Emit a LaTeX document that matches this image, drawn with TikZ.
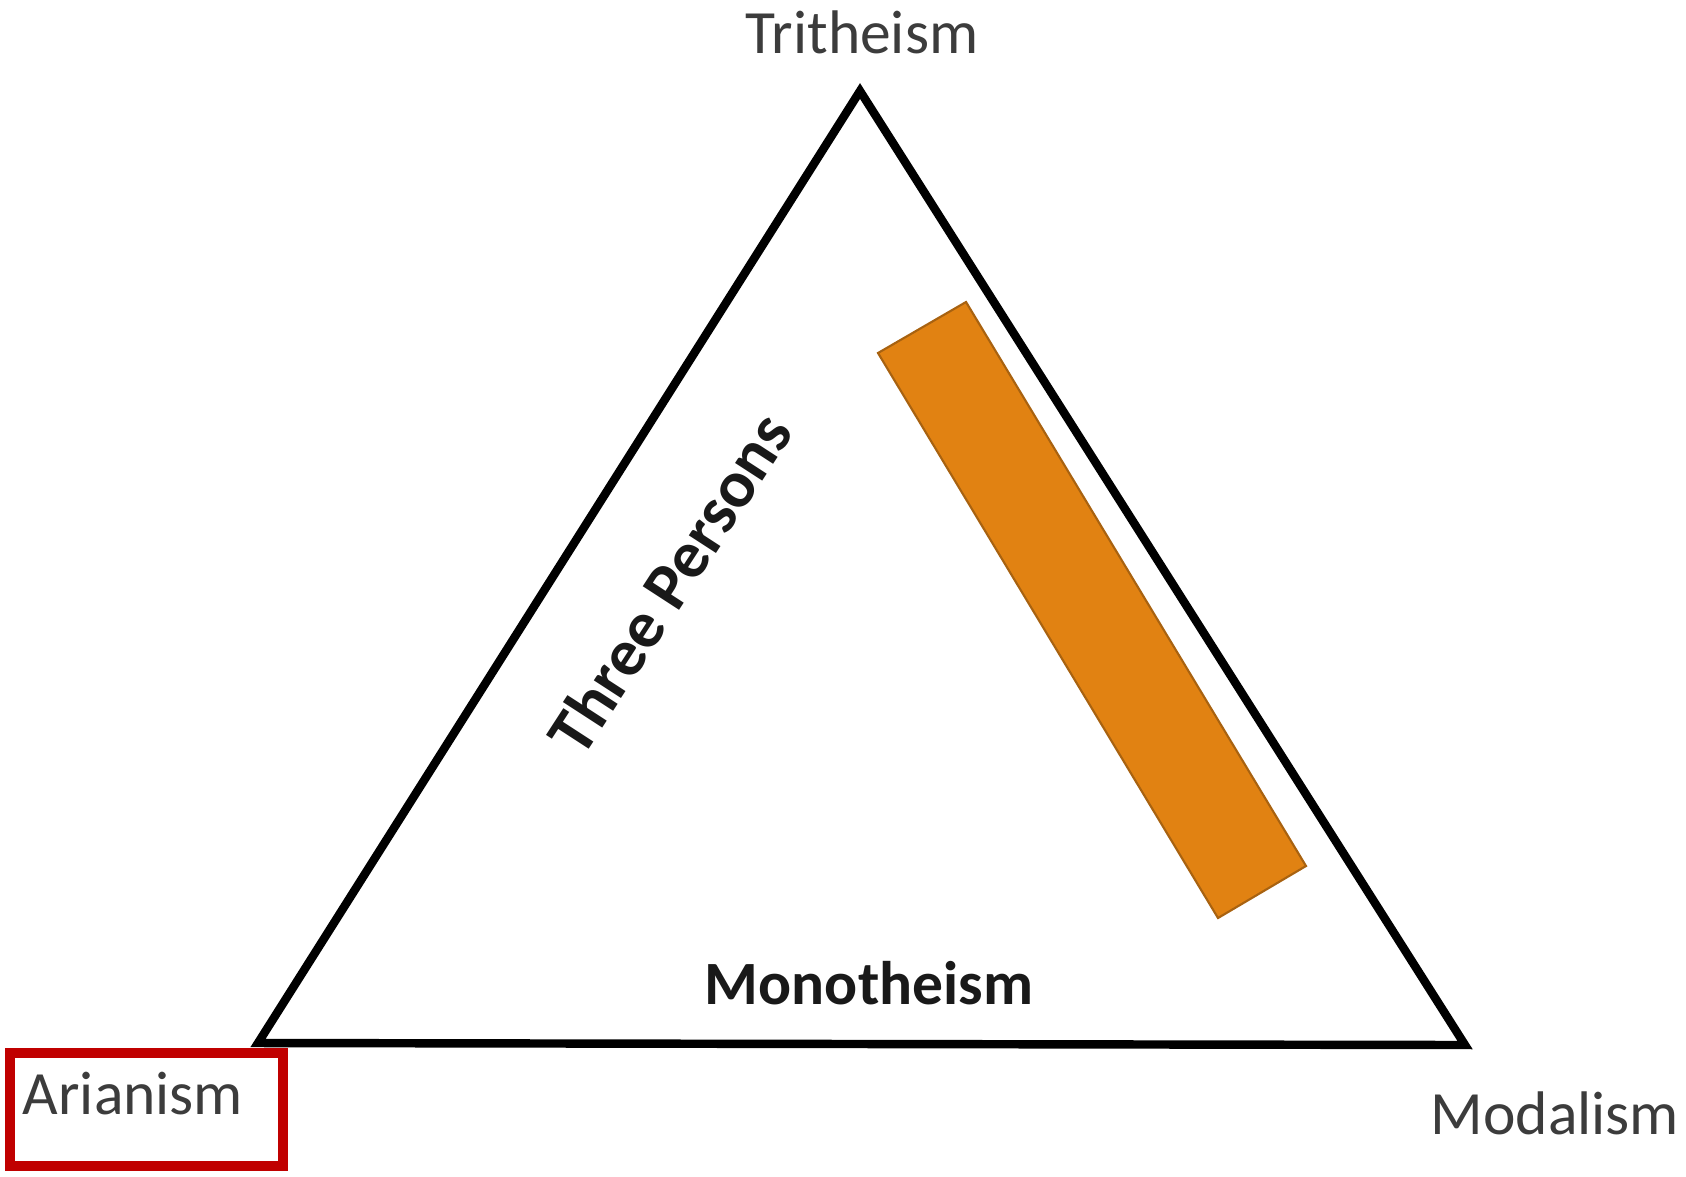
\documentclass[tikz,border=0pt]{standalone}
\usepackage{fontspec}
\setmainfont{Carlito}
\usepackage{tikz}
\usetikzlibrary{positioning}
\definecolor{barfill}{RGB}{225,130,18}
\definecolor{bardraw}{RGB}{168,98,16}
\definecolor{boxred}{RGB}{192,0,0}
\definecolor{lbltext}{RGB}{60,60,60}
\tikzset{
  tri/.style={draw=black,line width=2.4pt,line join=miter},
  corner/.style={font=\fontsize{17.5}{20}\selectfont,text=lbltext,inner sep=0pt},
  side/.style={font=\fontsize{17.5}{20}\selectfont\bfseries,text=black!90,inner sep=0pt},
  bar/.style={fill=barfill,draw=bardraw,line width=0.6pt},
  markbox/.style={draw=boxred,line width=3pt}
}

\begin{document}
\begin{tikzpicture}[x=0.01cm,y=-0.01cm]
  \useasboundingbox[fill=white] (0,0) rectangle (1686,1176);
  % Triangle corners
  \coordinate (top) at (860,91);
  \coordinate (left) at (258,1043);
  \coordinate (right) at (1465,1045);
  \draw[tri] (top) -- (left) -- (right) -- cycle;

  % Orange bar along the right side
  \coordinate (b1) at (878,353);
  \coordinate (b2) at (966,302);
  \coordinate (b3) at (1306,866);
  \coordinate (b4) at (1218,918);
  \draw[bar] (b1) -- (b2) -- (b3) -- (b4) -- cycle;

  % Corner labels
  \node[corner] (trith) at (862,32) {Tritheism};
  \node[corner] (arian) at (133,1094) {Arianism};
  \node[corner] (modal) at (1555,1113) {Modalism};

  % Side labels
  \node[side] (mono) at (869,983) {Monotheism};
  \node[side, rotate=57, font=\fontsize{19}{22}\selectfont\bfseries] (persons) at (669,583) {Three Persons};

  % Highlight box
  \coordinate (hl1) at (10,1053);
  \coordinate (hl2) at (283,1166);
  \draw[markbox] (hl1) rectangle (hl2);
\end{tikzpicture}
\end{document}
